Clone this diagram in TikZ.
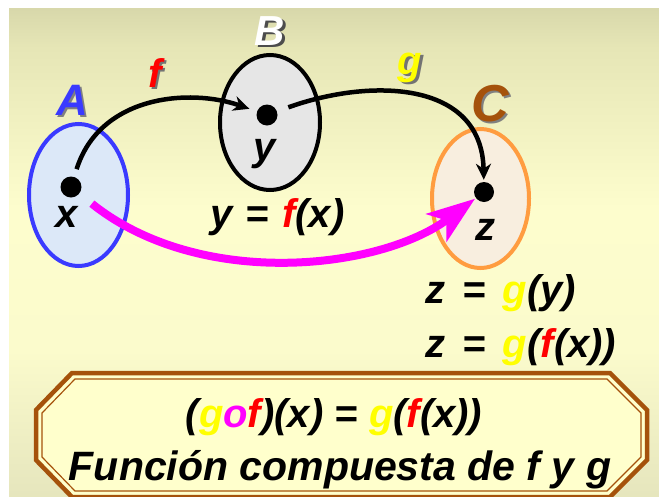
\documentclass[tikz,border=0pt]{standalone}
\usepackage{fontspec}
\setmainfont{Liberation Sans}
\usetikzlibrary{arrows.meta,shapes.geometric}
\definecolor{bg0}{HTML}{7B7B62}
\definecolor{bg1}{HTML}{B4B48E}
\definecolor{bg2}{HTML}{E6E6B6}
\definecolor{bg3}{HTML}{FDFDCD}
\definecolor{bg4}{HTML}{FBFBCC}
\definecolor{bg5}{HTML}{E4E4BC}
\definecolor{bg6}{HTML}{B0B090}
\definecolor{bg7}{HTML}{7D7D62}
\definecolor{setA}{HTML}{3A3AFF}
\definecolor{fillA}{HTML}{DCE8F8}
\definecolor{fillB}{HTML}{E6E6E6}
\definecolor{setC}{HTML}{FF9C40}
\definecolor{fillC}{HTML}{F8EEDF}
\definecolor{brownC}{HTML}{A5520B}
\definecolor{fred}{HTML}{FF0000}
\definecolor{gyel}{HTML}{FFFF00}
\definecolor{magc}{HTML}{FF00FF}
\definecolor{boxfill}{HTML}{FFFFCC}
\pgfdeclareverticalshading{slidebg}{100bp}{color(0bp)=(bg7); color(11.5bp)=(bg6); color(23.8bp)=(bg5); color(40bp)=(bg4); color(54.5bp)=(bg3); color(70.9bp)=(bg2); color(85.2bp)=(bg1); color(100bp)=(bg0)}
\newcommand{\bigfont}[1]{\fontsize{#1}{#1}\selectfont\bfseries\itshape}
\newcommand{\shadowed}[3]{\rlap{\kern2.5pt\raisebox{-2.5pt}{\textcolor{#2}{#3}}}\textcolor{#1}{#3}}
\newcommand{\wsp}{\hspace{0.43em}}
\begin{document}
\begin{tikzpicture}[x=1pt,y=-1pt,
  setshape/.style={ellipse,inner sep=0pt,line width=4pt},
  dotnode/.style={circle,fill=black,inner sep=0pt,minimum size=21pt},
  lbl/.style={inner sep=0pt,anchor=base,font=\bigfont{40}},
  biglbl/.style={inner sep=0pt,anchor=base},
  maparrow/.style={line width=4.5pt,-{Stealth[length=16pt,width=15pt,inset=5pt]}},
  comparrow/.style={line width=8pt,magc,-{Stealth[length=48pt,width=34pt,inset=12pt]}}]
\useasboundingbox (0,0) rectangle (659,496);
\fill[white] (0,0) rectangle (659,496);
\clip (0,0) rectangle (659,496);
\fill[shading=slidebg] (9,8) rectangle (659,496);

% sets
\node[setshape,draw=setA,fill=fillA,minimum width=99pt,minimum height=142pt] (A) at (78.5,195) {};
\node[setshape,draw=black,fill=fillB,minimum width=100pt,minimum height=135pt] (B) at (270,122.5) {};
\node[setshape,draw=setC,fill=fillC,minimum width=97pt,minimum height=139pt] (C) at (480.5,198.5) {};

% set labels
\node[biglbl,font=\bigfont{44}] (Alab) at (72,115) {\shadowed{setA}{black!50}{A}};
\node[biglbl,font=\bigfont{42}] (Blab) at (270,45) {\shadowed{white}{black!70}{B}};
\node[biglbl,font=\bigfont{52}] (Clab) at (490,121) {\shadowed{brownC}{black!50}{C}};

% points
\node[dotnode] (px) at (71,187) {};
\node[dotnode] (py) at (267,115) {};
\node[dotnode,minimum size=20pt] (pz) at (484,192) {};
\node[lbl] (xlab) at (67,227) {x};
\node[lbl] (ylab) at (265,160) {y};
\node[lbl] (zlab) at (485,240) {z};

% arrows
\draw[maparrow,shorten <=8pt,shorten >=8pt] (px) .. controls (100,95) and (190,88) .. (py);
\draw[maparrow,shorten <=12pt,shorten >=2pt] (py) .. controls (370,78) and (482,80) .. (pz);
\draw[comparrow,shorten <=16pt,shorten >=1pt] (px) .. controls (200,290) and (380,270) .. (pz);

% function labels
\node[biglbl,font=\bigfont{40}] (flab) at (155,87) {\shadowed{fred}{black!55}{f}};
\node[biglbl,font=\bigfont{40}] (glab) at (410,74) {\shadowed{gyel}{black!55}{g}};

% equations
\node[lbl,anchor=base west] (eq1) at (210,227) {y\hspace{0.33em}=\hspace{0.33em}\textcolor{fred}{f}(x)};
\node[lbl,anchor=base west] (eq2) at (425,303) {z\wsp=\wsp\textcolor{gyel}{g}(y)};
\node[lbl,anchor=base west] (eq3) at (425,357) {z\wsp=\wsp\textcolor{gyel}{g}(\textcolor{fred}{f}(x))};

% bottom box
\draw[brownC,line width=4.5pt,fill=boxfill] (72,373) -- (610,373) -- (647,410) -- (647,460) -- (610,497) -- (72,497) -- (36,460) -- (36,410) -- cycle;
\draw[brownC,line width=1.2pt] (75,379) -- (607,379) -- (641,413) -- (641,457) -- (607,491) -- (75,491) -- (42,457) -- (42,413) -- cycle;
\node[lbl] (comp) at (334,427) {(\textcolor{gyel}{g}\textcolor{magc}{o}\textcolor{fred}{f})(x) = \textcolor{gyel}{g}(\textcolor{fred}{f}(x))};
\node[lbl,font=\bigfont{41}] (title) at (340,480) {Función compuesta de f y g};
\end{tikzpicture}
\end{document}
